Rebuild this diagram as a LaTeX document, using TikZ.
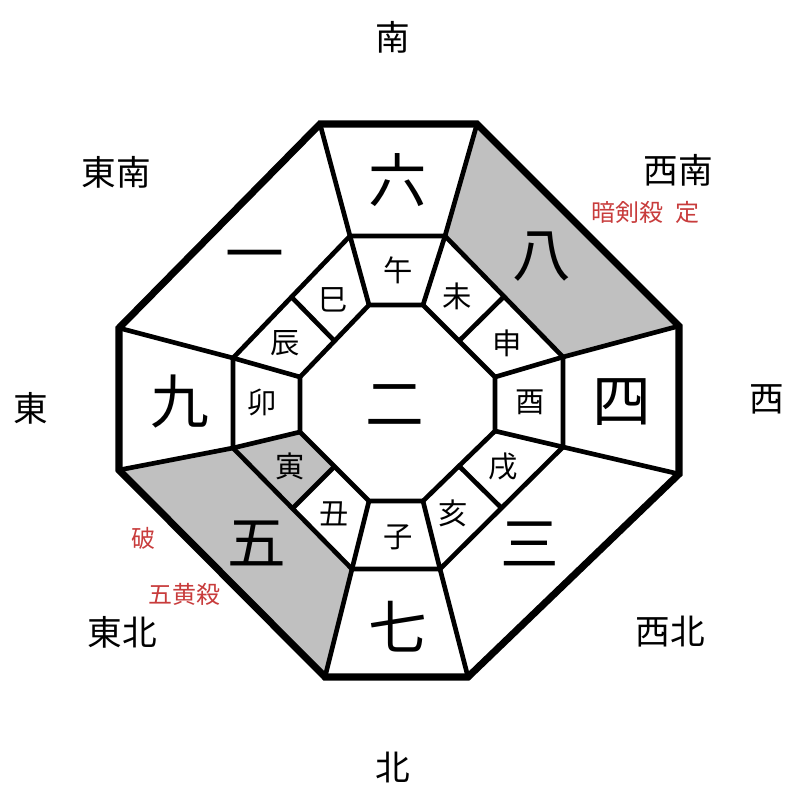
\documentclass[tikz,border=0pt]{standalone}
\usepackage{fontspec}
\newfontfamily\cjk{Noto Sans CJK JP}
\usetikzlibrary{calc}
\definecolor{cellgray}{RGB}{192,192,192}
\definecolor{warn}{RGB}{200,60,60}
\begin{document}
\begin{tikzpicture}[x=0.75pt,y=-0.75pt, every node/.style={font=\cjk,inner sep=0pt},
  dirtxt/.style={font=\cjk\fontsize{26}{26}\selectfont},
  numtxt/.style={font=\cjk\fontsize{44}{44}\selectfont},
  branch/.style={font=\cjk\fontsize{22}{22}\selectfont},
  note/.style={font=\cjk\fontsize{18}{18}\selectfont,text=warn},
  wall/.style={line width=3.5pt},
  rim/.style={line width=5.3pt}]
\useasboundingbox (0,0) rectangle (800,800);
% outer, middle and inner octagon corners
\coordinate (o1) at (320,124); \coordinate (o2) at (477,124); \coordinate (o3) at (679,326); \coordinate (o4) at (679,474);
\coordinate (o5) at (468,677); \coordinate (o6) at (325,677); \coordinate (o7) at (119,470); \coordinate (o8) at (119,328);
\coordinate (m1) at (350,236); \coordinate (m2) at (445,236); \coordinate (m3) at (563,357); \coordinate (m4) at (563,447);
\coordinate (m5) at (440,569); \coordinate (m6) at (352,569); \coordinate (m7) at (233,448); \coordinate (m8) at (233,358);
\coordinate (i1) at (369,305); \coordinate (i2) at (423,305); \coordinate (i3) at (495,377); \coordinate (i4) at (495,431);
\coordinate (i5) at (423,501); \coordinate (i6) at (369,501); \coordinate (i7) at (300,432); \coordinate (i8) at (300,377);
% shaded cells
\fill[cellgray] (o2)--(o3)--(m3)--(m2)--cycle;
\fill[cellgray] (o6)--(o7)--(m7)--(m6)--cycle;
\fill[cellgray] (m7)--($(m6)!.5!(m7)$)--($(i6)!.5!(i7)$)--(i7)--cycle;
% walls
\draw[wall] (m1)--(m2)--(m3)--(m4)--(m5)--(m6)--(m7)--(m8)--cycle;
\draw[wall] (i1)--(i2)--(i3)--(i4)--(i5)--(i6)--(i7)--(i8)--cycle;
\foreach \k in {1,...,8} \draw[wall] (o\k)--(m\k)--(i\k);
\foreach \a/\b in {2/3,4/5,6/7,8/1} \draw[wall] ($(m\a)!.5!(m\b)$)--($(i\a)!.5!(i\b)$);
\draw[rim] (o1)--(o2)--(o3)--(o4)--(o5)--(o6)--(o7)--(o8)--cycle;
% directions
\node[dirtxt] (south) at (393,37) {南};
\node[dirtxt] (north) at (393,767) {北};
\node[dirtxt] (east) at (31,408) {東};
\node[dirtxt] (west) at (767,399) {西};
\node[dirtxt] (se) at (116,172) {東南};
\node[dirtxt] (sw) at (678,170) {西南};
\node[dirtxt] (ne) at (122,632) {東北};
\node[dirtxt] (nw) at (670,632) {西北};
% stars
\node[numtxt] (c) at (395,405) {二};
\node[numtxt] (n6) at (398,180) {六};
\node[numtxt] (n8) at (542,257) {八};
\node[numtxt] (n4) at (622,402) {四};
\node[numtxt] (n3) at (530,544) {三};
\node[numtxt] (n7) at (398,627) {七};
\node[numtxt] (n5) at (257,543) {五};
\node[numtxt] (n9) at (180,402) {九};
\node[numtxt] (n1) at (255,263) {一};
% branches
\node[branch] (wu) at (398,270) {午};
\node[branch] (wei) at (457,296) {未};
\node[branch] (shen) at (507,343) {申};
\node[branch] (you) at (530,402) {酉};
\node[branch] (xu) at (503,467) {戌};
\node[branch] (hai) at (453,513) {亥};
\node[branch] (zi) at (398,537) {子};
\node[branch] (chou) at (334,514) {丑};
\node[branch] (yin) at (290,466) {寅};
\node[branch] (mao) at (262,402) {卯};
\node[branch] (chen) at (285,343) {辰};
\node[branch] (si) at (333,300) {巳};
% notes
\node[note] (ankensatsu) at (645,212) {暗剣殺\hspace{0.5em}定};
\node[note] (ha) at (143,538) {破};
\node[note] (gooh) at (184,594) {五黄殺};
\end{tikzpicture}
\end{document}
